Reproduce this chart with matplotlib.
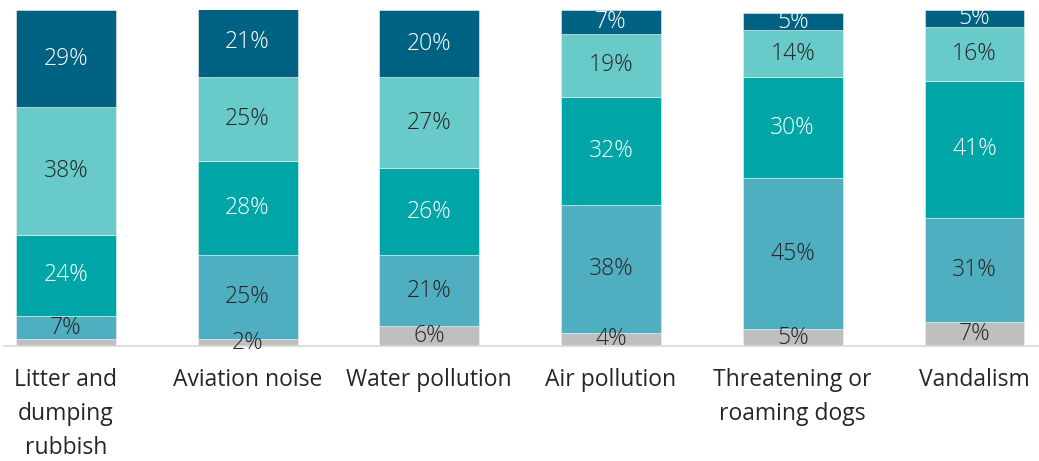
import matplotlib
matplotlib.use("Agg")
import matplotlib.pyplot as plt
import numpy as np

categories = ["Litter and\ndumping\nrubbish", "Aviation noise", "Water pollution",
              "Air pollution", "Threatening or\nroaming dogs", "Vandalism"]

# segments from bottom to top
grey = [2, 2, 6, 4, 5, 7]
blue_teal = [7, 25, 21, 38, 45, 31]
teal = [24, 28, 26, 32, 30, 41]
light_teal = [38, 25, 27, 19, 14, 16]
dark_blue = [29, 21, 20, 7, 5, 5]

series = [grey, blue_teal, teal, light_teal, dark_blue]
colors = ["#bfbfbf", "#50aec1", "#00a5a7", "#68cbca", "#006282"]
text_colors = ["#262626", "#262626", "white", "#262626", "white"]
show_label = [[False, True, True, True, True, True], None, None, None, None]

plt.rcParams["font.family"] = ["Open Sans", "DejaVu Sans"]

fig = plt.figure(figsize=(10.39, 4.61), dpi=100)
ax = fig.add_axes([4 / 1039, 115 / 461, 1035 / 1039, 336 / 461])

x = np.arange(len(categories))
bottom = np.zeros(len(categories))
for i, (vals, col) in enumerate(zip(series, colors)):
    vals = np.array(vals, dtype=float)
    ax.bar(x, vals, width=0.55, bottom=bottom, color=col, edgecolor="#f0f0f0", linewidth=0.4)
    for j, v in enumerate(vals):
        if show_label[i] is not None and not show_label[i][j]:
            continue
        ax.text(x[j], bottom[j] + v / 2, f"{int(v)}%", ha="center", va="center",
                color=text_colors[i], fontsize=16.5, fontweight="light")
    bottom += vals

ax.set_xlim(-0.34, 5.355)
ax.set_ylim(0, 100)
ax.set_xticks(x)
ax.set_xticklabels(categories, fontsize=16.5, color="#262626", linespacing=1.55, va="top")
ax.tick_params(axis="x", length=0, pad=16)
ax.set_yticks([])
for s in ["top", "right", "left"]:
    ax.spines[s].set_visible(False)
ax.spines["bottom"].set_color("#d9d9d9")
ax.spines["bottom"].set_linewidth(1.2)

fig.savefig("out.png", dpi=100, facecolor="white")
